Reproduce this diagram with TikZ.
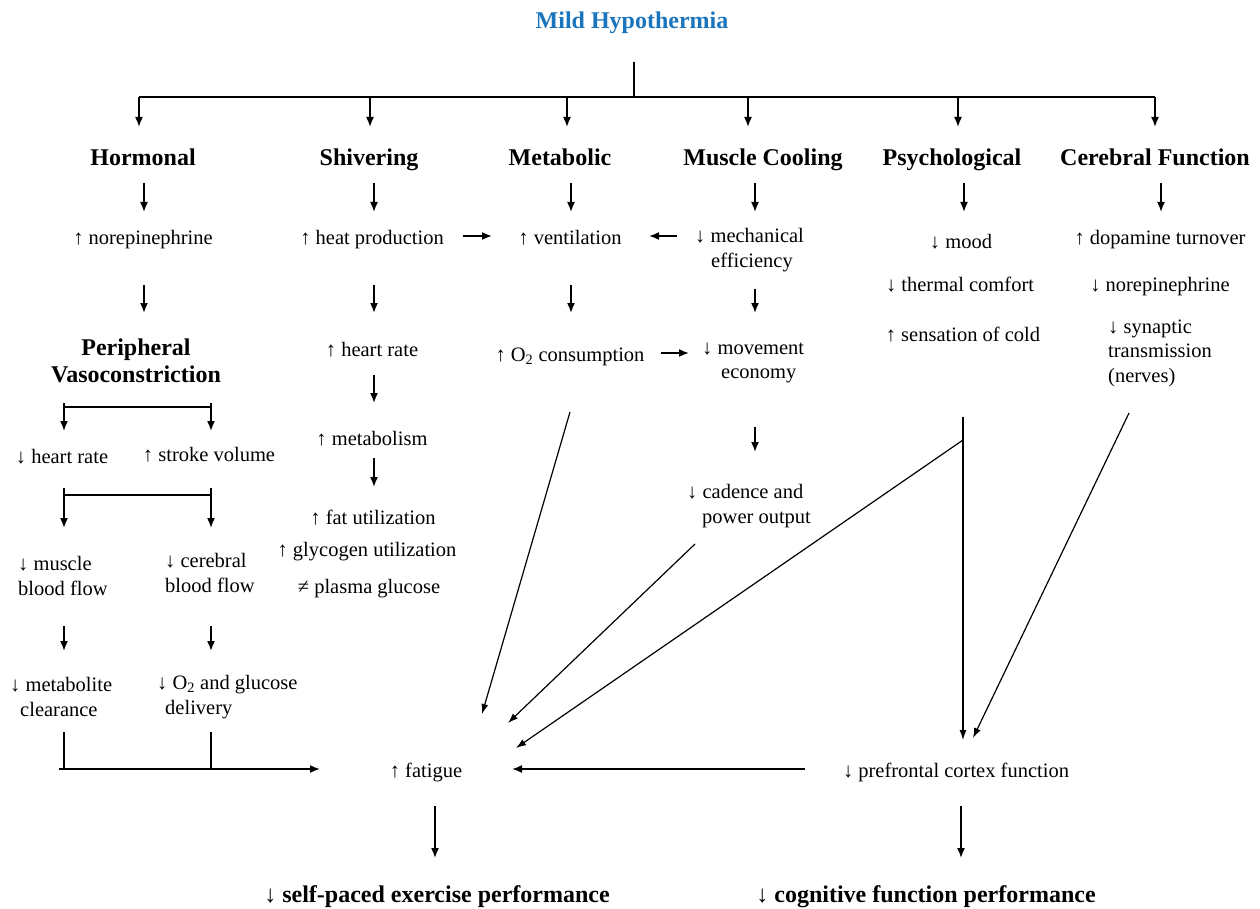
\documentclass[tikz,border=0pt]{standalone}
\usepackage{fontspec}
\setmainfont{Liberation Serif}
\usetikzlibrary{arrows.meta,calc}
\definecolor{titleblue}{RGB}{27,117,188}
\begin{document}
\begin{tikzpicture}[x=1pt,y=-1pt,
 tx/.style={font=\fontsize{20.5}{24.5}\selectfont, inner sep=0pt, text height=20pt, text depth=4pt},
 ml/.style={font=\fontsize{20.5}{24.5}\selectfont, inner sep=0pt, align=left, anchor=west, yshift=-2pt},
 hd/.style={font=\fontsize{24}{27}\selectfont\bfseries, inner sep=0pt, text height=23pt, text depth=5pt},
 hdm/.style={font=\fontsize{24}{27}\selectfont\bfseries, inner sep=0pt, align=center, yshift=-2pt},
 arr/.style={line width=1.6pt, -{Latex[length=10pt,width=8pt]}},
 dg/.style={line width=1.2pt, -{Latex[length=10pt,width=7pt]}},
 ln/.style={line width=1.6pt},
]
\useasboundingbox (0,0) rectangle (1260,909);

% column coordinates
\coordinate (cH) at (144,0);
\coordinate (cS) at (374,0);
\coordinate (cM) at (571,0);
\coordinate (cC) at (755,0);
\coordinate (cP) at (964,0);
\coordinate (cF) at (1161,0);
\coordinate (cB1) at (64,0);
\coordinate (cB2) at (211,0);
\coordinate (cX) at (435,0);
\coordinate (cY) at (961,0);

% title and headings
\node[hd, text=titleblue] (title) at (632,20) {Mild Hypothermia};
\node[hd] (hormonal) at (143,157) {Hormonal};
\node[hd] (shivering) at (369,157) {Shivering};
\node[hd] (metabolic) at (560,157) {Metabolic};
\node[hd] (muscle) at (763,157) {Muscle Cooling};
\node[hd] (psych) at (952,157) {Psychological};
\node[hd] (cerebral) at (1155,157) {Cerebral Function};

% row 3
\node[tx] (norepi) at (143,236) {↑ norepinephrine};
\node[tx] (heat) at (372,236) {↑ heat production};
\node[tx] (vent) at (570,236) {↑ ventilation};
\node[ml] (mech) at (695,248) {↓ mechanical\\\hspace*{16pt}efficiency};
\node[tx] (mood) at (961,240) {↓ mood};
\node[tx] (dopa) at (1160,236) {↑ dopamine turnover};
\node[tx] (thermal) at (960,283) {↓ thermal comfort};
\node[tx] (norepi2) at (1160,283) {↓ norepinephrine};
\node[tx] (cold) at (963,333) {↑ sensation of cold};
\node[ml] (syn) at (1108,351) {↓ synaptic\\transmission\\(nerves)};

% hormonal column
\node[hdm] (pv) at (136,359) {Peripheral\\Vasoconstriction};
\node[tx] (hr) at (62,455) {↓ heart rate};
\node[tx] (sv) at (209,453) {↑ stroke volume};
\node[ml] (mbf) at (18,574) {↓ muscle\\blood flow};
\node[ml] (cbf) at (165,571) {↓ cerebral\\blood flow};
\node[ml] (mc) at (10,695) {↓ metabolite\\\hspace*{10pt}clearance};
\node[ml] (o2) at (157,695) {↓ O\textsubscript{2} and glucose\\\hspace*{8pt}delivery};

% shivering column
\node[tx] (hr2) at (372,348) {↑ heart rate};
\node[tx] (metab) at (372,437) {↑ metabolism};
\node[tx] (fat) at (373,516) {↑ fat utilization};
\node[tx] (gly) at (367,548) {↑ glycogen utilization};
\node[tx] (plasma) at (369,585) {≠ plasma glucose};

% metabolic / muscle
\node[tx] (o2c) at (570,353) {↑ O\textsubscript{2} consumption};
\node[ml] (move) at (702,361) {↓ movement\\\hspace*{19pt}economy};
\node[ml] (cad) at (687,504) {↓ cadence and\\\hspace*{15pt}power output};

% bottom
\node[tx] (fatigue) at (426,769) {↑ fatigue};
\node[tx] (pfc) at (956,769) {↓ prefrontal cortex function};
\node[hd] (sep) at (437,893) {↓ self-paced exercise performance};
\node[hd] (cog) at (926,893) {↓ cognitive function performance};

% top fan
\coordinate (fan) at (634,97);
\coordinate (f1) at (139,97);
\coordinate (f2) at (370,97);
\coordinate (f3) at (567,97);
\coordinate (f4) at (748,97);
\coordinate (f5) at (958,97);
\coordinate (f6) at (1155,97);
\draw[ln] (fan |- title.center) ++(0,42) -- (fan);
\draw[ln] (f1) -- (f6);
\draw[arr, shorten >=30pt] (f1) -- (f1 |- hormonal.center);
\draw[arr, shorten >=30pt] (f2) -- (f2 |- shivering.center);
\draw[arr, shorten >=30pt] (f3) -- (f3 |- metabolic.center);
\draw[arr, shorten >=30pt] (f4) -- (f4 |- muscle.center);
\draw[arr, shorten >=30pt] (f5) -- (f5 |- psych.center);
\draw[arr, shorten >=30pt] (f6) -- (f6 |- cerebral.center);

% heading -> row 3
\draw[arr, shorten <=26pt, shorten >=24pt] (cH |- hormonal.center) -- (cH |- norepi.center);
\draw[arr, shorten <=26pt, shorten >=24pt] (cS |- shivering.center) -- (cS |- heat.center);
\draw[arr, shorten <=26pt, shorten >=24pt] (cM |- metabolic.center) -- (cM |- vent.center);
\draw[arr, shorten <=26pt, shorten >=38pt] (cC |- muscle.center) -- (cC |- mech.center);
\draw[arr, shorten <=26pt, shorten >=28pt] (cP |- psych.center) -- (cP |- mood.center);
\draw[arr, shorten <=26pt, shorten >=24pt] (cF |- cerebral.center) -- (cF |- dopa.center);

% row 3 -> row 4
\draw[arr, shorten <=49pt, shorten >=48pt] (cH |- norepi.center) -- (cH |- pv.center);
\draw[arr, shorten <=49pt, shorten >=35pt] (cS |- heat.center) -- (cS |- hr2.center);
\draw[arr, shorten <=49pt, shorten >=40pt] (cM |- vent.center) -- (cM |- o2c.center);
\draw[arr, shorten <=39pt, shorten >=50pt] (cC |- mech.center) -- (cC |- move.center);
\draw[arr, shorten <=27pt, shorten >=34pt] (cS |- hr2.center) -- (cS |- metab.center);
\draw[arr, shorten <=21pt, shorten >=29pt] (cS |- metab.center) -- (cS |- fat.center);
\draw[arr, shorten <=64pt, shorten >=54pt] (cC |- move.center) -- (cC |- cad.center);

% horizontal arrows
\draw[arr, shorten <=91pt, shorten >=78pt] (heat.center) -- (vent.center);
\draw[arr, shorten <=18pt, shorten >=79pt] (mech.west |- vent.center) -- (vent.center);
\draw[arr, shorten <=91pt, shorten >=13pt] (o2c.center) -- (move.west |- o2c.center);

% brackets
\coordinate (b1L) at (64,407);
\coordinate (b1R) at (211,407);
\draw[ln] (b1L) -- (b1R);
\draw[arr, shorten <=-4pt, shorten >=24pt] (b1L) -- (b1L |- hr.center);
\draw[arr, shorten <=-4pt, shorten >=22pt] (b1R) -- (b1R |- sv.center);
\coordinate (b2L) at (64,495);
\coordinate (b2R) at (211,495);
\draw[ln] (b2L) -- (b2R);
\draw[arr, shorten <=-7pt, shorten >=48pt] (b2L) -- (b2L |- mbf.center);
\draw[arr, shorten <=-7pt, shorten >=45pt] (b2R) -- (b2R |- cbf.center);
\draw[arr, shorten <=50pt, shorten >=46pt] (cB1 |- mbf.center) -- (cB1 |- mc.center);
\draw[arr, shorten <=53pt, shorten >=46pt] (cB2 |- cbf.center) -- (cB2 |- o2.center);

% collector to fatigue
\coordinate (colL) at (59,769);
\draw[ln, shorten <=35pt] (cB1 |- mc.center) -- (cB1 |- colL);
\draw[ln, shorten <=35pt] (cB2 |- o2.center) -- (cB2 |- colL);
\draw[arr, shorten >=106pt] (colL) -- (fatigue.center);
\draw[arr, shorten <=151pt, shorten >=86pt] (pfc.center) -- (fatigue.center);

% outcomes
\draw[arr, shorten <=37pt, shorten >=35pt] (cX |- fatigue.center) -- (cX |- sep.center);
\draw[arr, shorten <=37pt, shorten >=35pt] (cY |- pfc.center) -- (cY |- cog.center);

% diagonals
\draw[dg] ($(o2c.center)+(0,59)$) -- ($(fatigue.center)+(56,-55)$);
\draw[dg] ($(cad.west)+(8,38)$) -- ($(fatigue.center)+(82,-46)$);
\draw[dg] ($(cold.center)+(0,107)$) -- ($(fatigue.center)+(90,-21)$);
\draw[dg] ($(cold.center)+(0,84)$) -- ($(pfc.center)+(7,-29)$);
\draw[dg] ($(syn.west)+(21,60)$) -- ($(pfc.center)+(17,-31)$);
\end{tikzpicture}
\end{document}
